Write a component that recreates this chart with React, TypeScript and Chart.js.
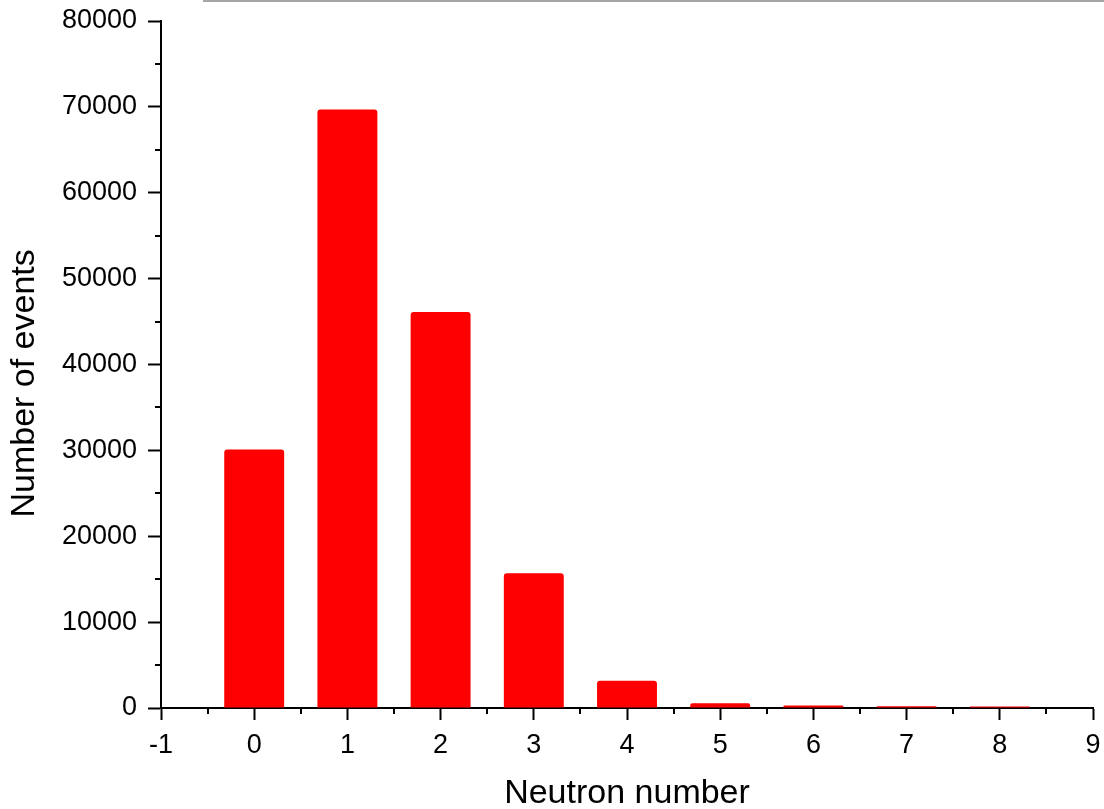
import React, { useEffect, useRef } from "react";
import { Chart, registerables } from "chart.js";

Chart.register(...registerables);

const neutronNumbers = [0, 1, 2, 3, 4, 5, 6, 7, 8];
const eventCounts = [30100, 69700, 46100, 15700, 3180, 550, 290, 200, 180];
const xTickValues = [-1, 0, 1, 2, 3, 4, 5, 6, 7, 8, 9];
const yTickValues = [0, 10000, 20000, 30000, 40000, 50000, 60000, 70000, 80000];
const xTitle = "Neutron number";
const yTitle = "Number of events";

const FONT = "'Liberation Sans', Arial, sans-serif";

const minorTicks = {
  id: "minorTicks",
  afterDatasetsDraw(chart: any) {
    const { ctx, scales, chartArea } = chart;
    const xs = scales.x;
    const ys = scales.y;
    ctx.save();
    ctx.strokeStyle = "#000";
    ctx.lineWidth = 2;
    ctx.beginPath();
    for (let i = 0; i < xTickValues.length - 1; i++) {
      const v = (xTickValues[i] + xTickValues[i + 1]) / 2;
      const px = Math.round(xs.getPixelForValue(v));
      ctx.moveTo(px, chartArea.bottom);
      ctx.lineTo(px, chartArea.bottom + 6);
    }
    for (let i = 0; i < yTickValues.length - 1; i++) {
      const v = (yTickValues[i] + yTickValues[i + 1]) / 2;
      const py = Math.round(ys.getPixelForValue(v));
      ctx.moveTo(chartArea.left - 6, py);
      ctx.lineTo(chartArea.left, py);
    }
    ctx.stroke();
    ctx.restore();
  },
};

function clearPadding(scale: any) {
  scale.paddingTop = 0;
  scale.paddingBottom = 0;
  scale.paddingLeft = 0;
  scale.paddingRight = 0;
}

export default function App() {
  const ref = useRef<HTMLCanvasElement | null>(null);
  useEffect(() => {
    if (!ref.current) return;
    const chart = new Chart(ref.current, {
      type: "bar",
      data: {
        datasets: [
          {
            data: neutronNumbers.map((x, i) => ({ x, y: eventCounts[i] })),
            backgroundColor: "#ff0000",
            borderWidth: 0,
            borderRadius: 3,
            barPercentage: 0.643,
            categoryPercentage: 1,
          },
        ],
      },
      options: {
        animation: false,
        responsive: false,
        devicePixelRatio: 1,
        layout: { padding: { top: 21, right: 11, left: 0, bottom: 0 } },
        plugins: { legend: { display: false }, tooltip: { enabled: false } },
        scales: {
          x: {
            type: "linear",
            min: -1,
            max: 9,
            offset: false,
            afterFit(scale: any) {
              scale.height = 101;
              clearPadding(scale);
            },
            afterBuildTicks(scale: any) {
              scale.ticks = xTickValues.map((v) => ({ value: v }));
            },
            ticks: {
              stepSize: 1,
              autoSkip: false,
              maxRotation: 0,
              color: "#000",
              padding: 9,
              font: { family: FONT, size: 27 },
              callback: (v: any) => String(v),
            },
            grid: {
              offset: false,
              drawOnChartArea: false,
              drawTicks: true,
              tickLength: 12,
              tickWidth: 2,
              tickColor: "#000",
            },
            border: { display: true, color: "#000", width: 2 },
            title: {
              display: true,
              text: xTitle,
              color: "#000",
              font: { family: FONT, size: 34, lineHeight: 0.9 },
              padding: { top: 0, bottom: 0 },
            },
          },
          y: {
            type: "linear",
            min: 0,
            max: 80000,
            afterFit(scale: any) {
              scale.width = 161;
              clearPadding(scale);
            },
            afterBuildTicks(scale: any) {
              scale.ticks = yTickValues.map((v) => ({ value: v }));
            },
            ticks: {
              stepSize: 10000,
              color: "#000",
              padding: 11,
              font: { family: FONT, size: 27 },
              callback: (v: any) => String(v),
            },
            grid: {
              drawOnChartArea: false,
              drawTicks: true,
              tickLength: 13,
              tickWidth: 2,
              tickColor: "#000",
            },
            border: { display: true, color: "#000", width: 2 },
            title: {
              display: true,
              text: yTitle + "    ",
              color: "#000",
              font: { family: FONT, size: 34, lineHeight: 1 },
              padding: { top: 8, bottom: 0 },
            },
          },
        },
      },
      plugins: [minorTicks],
    });
    return () => chart.destroy();
  }, []);

  return (
    <div style={{ position: "absolute", left: 0, top: 0, width: 1104, height: 809, background: "#fff" }}>
      <div style={{ position: "absolute", left: 203, top: 0, width: 901, height: 2, background: "#a6a6a6" }} />
      <canvas ref={ref} width={1104} height={809} style={{ width: 1104, height: 809, display: "block" }} />
    </div>
  );
}
